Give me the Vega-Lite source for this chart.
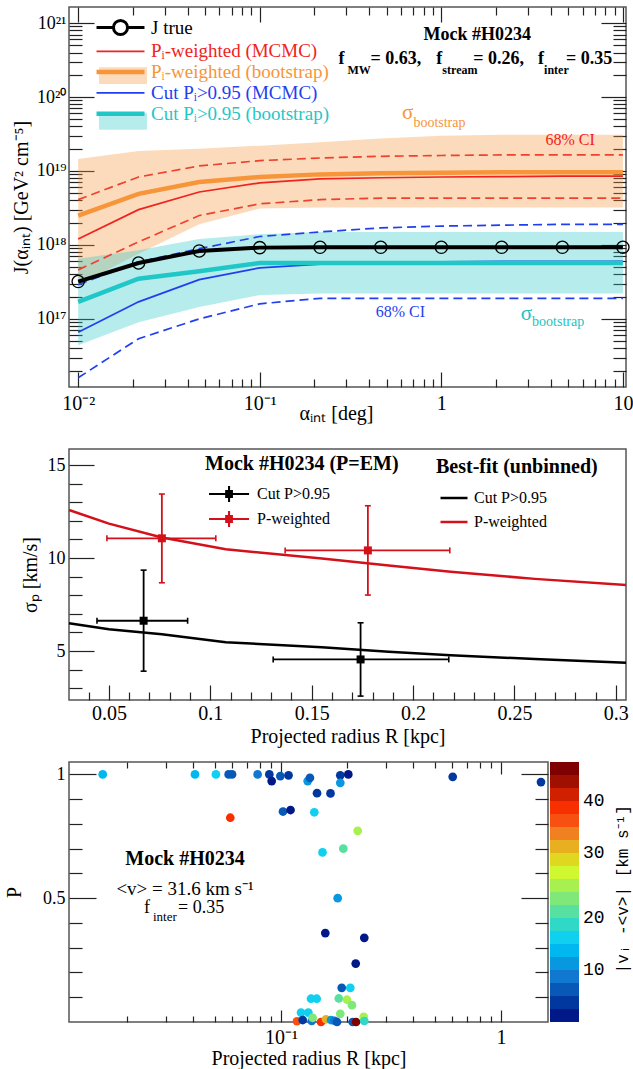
{
"$schema": "https://vega.github.io/schema/vega-lite/v6.json",
"background": "white",
"padding": {"left": 3, "top": 5, "right": 0, "bottom": 0},
"bounds": "flush",
"spacing": 62,
"config": {
  "font": "Liberation Serif",
  "view": {"stroke": "#555555", "strokeWidth": 1.5},
  "axis": {"domain": false, "grid": false, "labelFont": "Liberation Serif", "labelFontSize": 18, "labelColor": "black", "labelFlush": false, "labelOverlap": false, "labelBound": false, "titleFont": "Liberation Serif", "titleFontSize": 20, "titleFontWeight": "normal", "titleColor": "black", "tickColor": "#222222", "tickWidth": 1.2},
  "legend": {"labelFont": "Liberation Serif", "titleFont": "Liberation Serif", "labelColor": "black", "titleColor": "black", "padding": 0, "rowPadding": 0, "labelLimit": 400, "titleLimit": 500, "labelOverlap": false}
},
"resolve": {"scale": {"color": "independent", "stroke": "independent", "fill": "independent"}},
"datasets": {
  "jmain": [
    {"s":"Pᵢ-weighted (MCMC)","a":0.01,"J":1.2e18},{"s":"Pᵢ-weighted (MCMC)","a":0.0215,"J":3.0e18},{"s":"Pᵢ-weighted (MCMC)","a":0.0464,"J":5.2e18},{"s":"Pᵢ-weighted (MCMC)","a":0.1,"J":6.9e18},{"s":"Pᵢ-weighted (MCMC)","a":0.215,"J":7.8e18},{"s":"Pᵢ-weighted (MCMC)","a":0.464,"J":8.1e18},{"s":"Pᵢ-weighted (MCMC)","a":1,"J":8.3e18},{"s":"Pᵢ-weighted (MCMC)","a":2.15,"J":8.4e18},{"s":"Pᵢ-weighted (MCMC)","a":4.64,"J":8.5e18},{"s":"Pᵢ-weighted (MCMC)","a":10,"J":8.5e18},
    {"s":"Pᵢ-weighted (bootstrap)","a":0.01,"J":2.5e18},{"s":"Pᵢ-weighted (bootstrap)","a":0.0215,"J":4.9e18},{"s":"Pᵢ-weighted (bootstrap)","a":0.0464,"J":7.1e18},{"s":"Pᵢ-weighted (bootstrap)","a":0.1,"J":8.3e18},{"s":"Pᵢ-weighted (bootstrap)","a":0.215,"J":9.0e18},{"s":"Pᵢ-weighted (bootstrap)","a":0.464,"J":9.3e18},{"s":"Pᵢ-weighted (bootstrap)","a":1,"J":9.5e18},{"s":"Pᵢ-weighted (bootstrap)","a":2.15,"J":9.6e18},{"s":"Pᵢ-weighted (bootstrap)","a":4.64,"J":9.6e18},{"s":"Pᵢ-weighted (bootstrap)","a":10,"J":9.6e18},
    {"s":"Cut Pᵢ>0.95 (MCMC)","a":0.01,"J":6.6e16},{"s":"Cut Pᵢ>0.95 (MCMC)","a":0.0215,"J":1.7e17},{"s":"Cut Pᵢ>0.95 (MCMC)","a":0.0464,"J":3.4e17},{"s":"Cut Pᵢ>0.95 (MCMC)","a":0.1,"J":4.9e17},{"s":"Cut Pᵢ>0.95 (MCMC)","a":0.215,"J":5.5e17},{"s":"Cut Pᵢ>0.95 (MCMC)","a":0.464,"J":5.8e17},{"s":"Cut Pᵢ>0.95 (MCMC)","a":1,"J":5.9e17},{"s":"Cut Pᵢ>0.95 (MCMC)","a":2.15,"J":6.0e17},{"s":"Cut Pᵢ>0.95 (MCMC)","a":4.64,"J":6.0e17},{"s":"Cut Pᵢ>0.95 (MCMC)","a":10,"J":6.0e17},
    {"s":"Cut Pᵢ>0.95 (bootstrap)","a":0.01,"J":1.7e17},{"s":"Cut Pᵢ>0.95 (bootstrap)","a":0.0215,"J":3.5e17},{"s":"Cut Pᵢ>0.95 (bootstrap)","a":0.0464,"J":4.4e17},{"s":"Cut Pᵢ>0.95 (bootstrap)","a":0.1,"J":5.7e17},{"s":"Cut Pᵢ>0.95 (bootstrap)","a":0.215,"J":5.7e17},{"s":"Cut Pᵢ>0.95 (bootstrap)","a":0.464,"J":5.7e17},{"s":"Cut Pᵢ>0.95 (bootstrap)","a":1,"J":5.7e17},{"s":"Cut Pᵢ>0.95 (bootstrap)","a":2.15,"J":5.7e17},{"s":"Cut Pᵢ>0.95 (bootstrap)","a":4.64,"J":5.7e17},{"s":"Cut Pᵢ>0.95 (bootstrap)","a":10,"J":5.7e17},
    {"s":"J true","a":0.01,"J":3.2e17},{"s":"J true","a":0.0215,"J":5.7e17},{"s":"J true","a":0.0464,"J":8.3e17},{"s":"J true","a":0.1,"J":9.2e17},{"s":"J true","a":0.215,"J":9.3e17},{"s":"J true","a":0.464,"J":9.3e17},{"s":"J true","a":1,"J":9.3e17},{"s":"J true","a":2.15,"J":9.3e17},{"s":"J true","a":4.64,"J":9.3e17},{"s":"J true","a":10,"J":9.3e17}
  ],
  "jw": [
    {"a":0.01,"pwlo":4.6e17,"pwhi":4.1e18,"cutlo":1.6e16,"cuthi":2.9e17},
    {"a":0.0215,"pwlo":1.1e18,"pwhi":8.3e18,"cutlo":5.4e16,"cuthi":5.9e17},
    {"a":0.0464,"pwlo":2.5e18,"pwhi":1.17e19,"cutlo":1.0e17,"cuthi":8.9e17},
    {"a":0.1,"pwlo":3.6e18,"pwhi":1.38e19,"cutlo":1.6e17,"cuthi":1.3e18},
    {"a":0.215,"pwlo":4.1e18,"pwhi":1.5e19,"cutlo":1.9e17,"cuthi":1.5e18},
    {"a":0.464,"pwlo":4.3e18,"pwhi":1.58e19,"cutlo":1.9e17,"cuthi":1.7e18},
    {"a":1,"pwlo":4.3e18,"pwhi":1.62e19,"cutlo":1.9e17,"cuthi":1.8e18},
    {"a":2.15,"pwlo":4.3e18,"pwhi":1.65e19,"cutlo":1.9e17,"cuthi":1.85e18},
    {"a":4.64,"pwlo":4.3e18,"pwhi":1.65e19,"cutlo":1.9e17,"cuthi":1.9e18},
    {"a":10,"pwlo":4.3e18,"pwhi":1.65e19,"cutlo":1.9e17,"cuthi":1.9e18}
  ],
  "jband": [
    {"k":"pb","a":0.01,"lo":2.9e17,"hi":1.45e19},{"k":"pb","a":0.0215,"lo":7.6e17,"hi":1.86e19},{"k":"pb","a":0.0464,"lo":1.9e18,"hi":2.0e19},{"k":"pb","a":0.1,"lo":3.1e18,"hi":2.2e19},{"k":"pb","a":0.215,"lo":3.2e18,"hi":2.45e19},{"k":"pb","a":0.464,"lo":3.2e18,"hi":2.75e19},{"k":"pb","a":1,"lo":3.2e18,"hi":3.0e19},{"k":"pb","a":2.15,"lo":3.2e18,"hi":3.1e19},{"k":"pb","a":4.64,"lo":3.2e18,"hi":3.1e19},{"k":"pb","a":10,"lo":3.2e18,"hi":3.1e19},
    {"k":"cb","a":0.01,"lo":4.4e16,"hi":6.5e17},{"k":"cb","a":0.0215,"lo":9.0e16,"hi":8.5e17},{"k":"cb","a":0.0464,"lo":1.45e17,"hi":1.2e18},{"k":"cb","a":0.1,"lo":2.1e17,"hi":1.4e18},{"k":"cb","a":0.215,"lo":2.2e17,"hi":1.5e18},{"k":"cb","a":0.464,"lo":2.2e17,"hi":1.5e18},{"k":"cb","a":1,"lo":2.2e17,"hi":1.5e18},{"k":"cb","a":2.15,"lo":2.2e17,"hi":1.5e18},{"k":"cb","a":4.64,"lo":2.2e17,"hi":1.5e18},{"k":"cb","a":10,"lo":2.2e17,"hi":1.5e18}
  ],
  "tt": [
    {"a":1.578,"J":6.89e20,"text":"Mock #H0234","role":"hdr","g":"pw"},
    {"a":0.2717,"J":3.263e20,"text":"f","role":"fm","g":"pw"},
    {"a":0.4073,"J":3.263e20,"text":"= 0.63,","role":"fm","g":"pw"},
    {"a":0.9387,"J":3.263e20,"text":"f","role":"fm","g":"pw"},
    {"a":1.4993,"J":3.263e20,"text":"= 0.26,","role":"fm","g":"pw"},
    {"a":3.412,"J":3.263e20,"text":"f","role":"fm","g":"pw"},
    {"a":4.862,"J":3.263e20,"text":"= 0.35","role":"fm","g":"pw"},
    {"a":0.3044,"J":2.317e20,"text":"MW","role":"fs","g":"pw"},
    {"a":1.013,"J":2.317e20,"text":"stream","role":"fs","g":"pw"},
    {"a":3.68,"J":2.317e20,"text":"inter","role":"fs","g":"pw"},
    {"a":0.7015,"J":6.08e19,"text":"σ","role":"sig","g":"pw"},
    {"a":0.7015,"J":4.46e19,"text":"bootstrap","role":"sub","g":"pw"},
    {"a":3.16,"J":1.17e17,"text":"σ","role":"sig","g":"cut"},
    {"a":3.16,"J":9.1e16,"text":"bootstrap","role":"sub","g":"cut"},
    {"a":5.12,"J":2.62e19,"text":"68% CI","role":"ci","g":"pwci"},
    {"a":0.595,"J":1.245e17,"text":"68% CI","role":"ci","g":"cutci"}
  ],
  "mline": [
    {"fit":"Cut P>0.95","R":0.0303,"sig":6.49},{"fit":"Cut P>0.95","R":0.05,"sig":6.17},{"fit":"Cut P>0.95","R":0.0761,"sig":5.9},{"fit":"Cut P>0.95","R":0.1076,"sig":5.48},{"fit":"Cut P>0.95","R":0.155,"sig":5.2},{"fit":"Cut P>0.95","R":0.188,"sig":4.96},{"fit":"Cut P>0.95","R":0.2185,"sig":4.78},{"fit":"Cut P>0.95","R":0.26,"sig":4.57},{"fit":"Cut P>0.95","R":0.305,"sig":4.37},
    {"fit":"P-weighted","R":0.0303,"sig":12.58},{"fit":"P-weighted","R":0.05,"sig":11.85},{"fit":"P-weighted","R":0.0761,"sig":11.1},{"fit":"P-weighted","R":0.1076,"sig":10.47},{"fit":"P-weighted","R":0.155,"sig":9.98},{"fit":"P-weighted","R":0.188,"sig":9.6},{"fit":"P-weighted","R":0.2185,"sig":9.26},{"fit":"P-weighted","R":0.26,"sig":8.88},{"fit":"P-weighted","R":0.305,"sig":8.55}
  ],
  "mpts": [
    {"series":"Cut P>0.95","R":0.0671,"sig":6.63,"Rlo":0.0441,"Rhi":0.0888,"slo":3.92,"shi":9.35},
    {"series":"Cut P>0.95","R":0.1741,"sig":4.55,"Rlo":0.131,"Rhi":0.2176,"slo":2.58,"shi":6.52},
    {"series":"P-weighted","R":0.0761,"sig":11.06,"Rlo":0.049,"Rhi":0.1027,"slo":8.67,"shi":13.44},
    {"series":"P-weighted","R":0.1777,"sig":10.41,"Rlo":0.1369,"Rhi":0.2181,"slo":8.01,"shi":12.81}
  ],
  "bpts": [
    {"R":0.01547,"P":1.0,"v":14},{"R":0.04064,"P":1.0,"v":13},{"R":0.0506,"P":1.0,"v":15},{"R":0.0578,"P":1.0,"v":6},{"R":0.0599,"P":1.0,"v":7.5},{"R":0.0783,"P":1.0,"v":9},{"R":0.0885,"P":1.0,"v":3},{"R":0.0907,"P":0.973,"v":2},{"R":0.0993,"P":0.993,"v":6},{"R":0.1082,"P":0.996,"v":4},
    {"R":0.1322,"P":0.973,"v":12},{"R":0.1354,"P":0.986,"v":7},{"R":0.1458,"P":0.924,"v":4},{"R":0.1679,"P":0.923,"v":4},{"R":0.186,"P":0.996,"v":5},{"R":0.2023,"P":1.0,"v":2},{"R":0.186,"P":0.966,"v":10},{"R":0.6034,"P":0.99,"v":4},{"R":1.52,"P":0.969,"v":4},
    {"R":0.1021,"P":0.85,"v":7.5},{"R":0.1105,"P":0.856,"v":2},{"R":0.1417,"P":0.847,"v":15},{"R":0.0588,"P":0.825,"v":38},{"R":0.2232,"P":0.772,"v":26},{"R":0.192,"P":0.7,"v":21},{"R":0.1544,"P":0.685,"v":16},{"R":0.181,"P":0.5,"v":11.5},{"R":0.159,"P":0.359,"v":2},{"R":0.2391,"P":0.34,"v":2},{"R":0.2186,"P":0.236,"v":2},
    {"R":0.1888,"P":0.138,"v":7.5},{"R":0.2065,"P":0.138,"v":16},{"R":0.1369,"P":0.094,"v":16},{"R":0.1453,"P":0.094,"v":16},{"R":0.1831,"P":0.095,"v":21},{"R":0.1995,"P":0.09,"v":25.5},{"R":0.2102,"P":0.068,"v":23},{"R":0.1233,"P":0.038,"v":15},{"R":0.1331,"P":0.038,"v":16},{"R":0.186,"P":0.033,"v":23},
    {"R":0.1182,"P":0.003,"v":36},{"R":0.1255,"P":0.008,"v":4},{"R":0.1379,"P":0.004,"v":9},{"R":0.1393,"P":0.017,"v":23},{"R":0.152,"P":0.0,"v":38},{"R":0.1601,"P":0.011,"v":33},{"R":0.1688,"P":0.008,"v":11},{"R":0.1751,"P":0.005,"v":9},{"R":0.1797,"P":0.0,"v":7},{"R":0.2118,"P":0.0,"v":6},{"R":0.2193,"P":0.0,"v":46},{"R":0.2376,"P":0.021,"v":26},{"R":0.2391,"P":0.004,"v":18}
  ],
  "bt": [
    {"R":0.03661,"P":0.6566,"text":"Mock #H0234","role":"hdr"},
    {"R":0.03661,"P":0.538,"text":"<v> = 31.6 km s⁻¹","role":"ctr"},
    {"R":0.02384,"P":0.4585,"text":"f","role":"fm"},
    {"R":0.03402,"P":0.4585,"text":"= 0.35","role":"fm"},
    {"R":0.02619,"P":0.4234,"text":"inter","role":"fs"},
    {"R":3.585,"P":0.536,"text":"|vᵢ -<v>|  [km s⁻¹]","role":"cb"}
  ]
},
"vconcat": [
  {
    "width": 557, "height": 380,
    "encoding": {
      "x": {"field": "a", "type": "quantitative", "scale": {"type": "log", "domain": [0.0089, 10.4], "nice": false}, "axis": null},
      "y": {"field": "J", "type": "quantitative", "scale": {"type": "log", "domain": [1.2e16, 1.65e21], "nice": false}, "axis": null}
    },
    "layer": [
      {"data": {"name": "jband"}, "transform": [{"filter": "datum.k === 'pb'"}], "mark": {"type": "area", "opacity": 0.34},
       "encoding": {"y": {"field": "lo", "type": "quantitative", "scale": {"type": "log", "domain": [1.2e16, 1.65e21], "nice": false}, "axis": null}, "y2": {"field": "hi"},
         "color": {"field": "k", "type": "nominal", "scale": {"domain": ["j","pm","pb","cm","cb"], "range": ["transparent","transparent","#f7953a","transparent","#29c6c6"]},
           "legend": {"orient": "none", "legendX": 42, "legendY": 11, "title": null, "symbolType": "M-2.18,-0.77H2.18V0.77H-2.18Z", "symbolSize": 484, "labelFontSize": 19, "labelOffset": 21, "labelExpr": "' '", "labelOpacity": 0, "rowPadding": 0.8, "padding": 0}}}},
      {"data": {"name": "jband"}, "transform": [{"filter": "datum.k === 'cb'"}], "mark": {"type": "area", "opacity": 0.34},
       "encoding": {"y": {"field": "lo", "type": "quantitative", "scale": {"type": "log", "domain": [1.2e16, 1.65e21], "nice": false}, "axis": null}, "y2": {"field": "hi"},
         "color": {"field": "k", "type": "nominal", "scale": {"domain": ["j","pm","pb","cm","cb"], "range": ["transparent","transparent","#f7953a","transparent","#29c6c6"]}, "legend": null}}},
      {"data": {"name": "jw"}, "transform": [{"fold": ["pwlo","pwhi"], "as": ["b","J"]}], "mark": {"type": "line", "color": "#f0402e", "strokeWidth": 1.7, "strokeDash": [9,5]},
       "encoding": {"detail": {"field": "b", "type": "nominal"}}},
      {"data": {"name": "jw"}, "transform": [{"fold": ["cutlo","cuthi"], "as": ["b","J"]}], "mark": {"type": "line", "color": "#2040ee", "strokeWidth": 1.7, "strokeDash": [9,5]},
       "encoding": {"detail": {"field": "b", "type": "nominal"}}},
      {"data": {"name": "jmain"}, "transform": [{"filter": {"field": "s", "oneOf": ["Pᵢ-weighted (MCMC)","Cut Pᵢ>0.95 (MCMC)"]}}], "mark": {"type": "line", "strokeWidth": 1.7},
       "encoding": {
         "x": {"field": "a", "type": "quantitative", "scale": {"type": "log", "domain": [0.0089, 10.4], "nice": false},
           "axis": {"orient": "bottom", "values": [0.01,0.02,0.03,0.04,0.05,0.06,0.07,0.08,0.09,0.1,0.2,0.3,0.4,0.5,0.6,0.7,0.8,0.9,1,2,3,4,5,6,7,8,9,10],
             "labelExpr": "datum.value === 0.01 ? '10⁻²' : datum.value === 0.1 ? '10⁻¹' : datum.value === 1 ? '1' : datum.value === 10 ? '10' : ''",
             "tickSize": {"condition": {"test": "abs(log(datum.value)/LN10 - round(log(datum.value)/LN10)) < 0.001", "value": -15}, "value": -8},
             "labelFontSize": 20, "labelPadding": 21, "title": "αᵢₙₜ  [deg]", "titleX": 267, "titleY": 16}},
         "y": {"field": "J", "type": "quantitative", "scale": {"type": "log", "domain": [1.2e16, 1.65e21], "nice": false},
           "axis": {"orient": "left", "values": [2e16,3e16,4e16,5e16,6e16,7e16,8e16,9e16,1e17,2e17,3e17,4e17,5e17,6e17,7e17,8e17,9e17,1e18,2e18,3e18,4e18,5e18,6e18,7e18,8e18,9e18,1e19,2e19,3e19,4e19,5e19,6e19,7e19,8e19,9e19,1e20,2e20,3e20,4e20,5e20,6e20,7e20,8e20,9e20,1e21],
             "labelExpr": "abs(log(datum.value)/LN10 - round(log(datum.value)/LN10)) < 0.001 ? '10' + ['¹⁶','¹⁷','¹⁸','¹⁹','²⁰','²¹'][round(log(datum.value)/LN10) - 16] : ''",
             "tickSize": {"condition": {"test": "abs(log(datum.value)/LN10 - round(log(datum.value)/LN10)) < 0.001", "value": -25}, "value": -13},
             "labelPadding": 28, "title": "J(αᵢₙₜ)  [GeV² cm⁻⁵]", "titleX": -38}},
         "stroke": {"field": "s", "type": "nominal", "scale": {"domain": ["J true","Pᵢ-weighted (MCMC)","Pᵢ-weighted (bootstrap)","Cut Pᵢ>0.95 (MCMC)","Cut Pᵢ>0.95 (bootstrap)"], "range": ["black","#f0231e","#f7953a","#1f3ff0","#1fc7c7"]},
           "legend": {"orient": "none", "legendX": 42, "legendY": 11, "title": null, "symbolType": "M-2.18,0H2.18", "symbolSize": 484, "labelFontSize": 19, "labelOffset": 21, "rowPadding": 0.8, "padding": 0,
             "encode": {
               "labels": {"update": {"fill": {"signal": "['black','#f0231e','#f7953a','#1f3ff0','#1fc7c7'][datum.index]"}}},
               "symbols": {"update": {"shape": {"signal": "datum.index === 0 ? 'M-2.18,0H-0.64M0.64,0H2.18M0.64,0A0.64,0.64 0 1 1 -0.64,0A0.64,0.64 0 1 1 0.64,0' : 'M-2.18,0H2.18'"},
                           "strokeWidth": {"signal": "datum.index === 1 || datum.index === 3 ? 1.8 : (datum.index === 0 ? 3 : 4.5)"}}}
             }}}
       }},
      {"data": {"name": "jmain"}, "transform": [{"filter": {"field": "s", "oneOf": ["Pᵢ-weighted (bootstrap)","Cut Pᵢ>0.95 (bootstrap)"]}}], "mark": {"type": "line", "strokeWidth": 4.5},
       "encoding": {"stroke": {"field": "s", "type": "nominal", "scale": {"domain": ["J true","Pᵢ-weighted (MCMC)","Pᵢ-weighted (bootstrap)","Cut Pᵢ>0.95 (MCMC)","Cut Pᵢ>0.95 (bootstrap)"], "range": ["black","#f0231e","#f7953a","#1f3ff0","#1fc7c7"]}, "legend": null}}},
      {"data": {"name": "jmain"}, "transform": [{"filter": "datum.s === 'J true'"}], "mark": {"type": "line", "strokeWidth": 4},
       "encoding": {"stroke": {"field": "s", "type": "nominal", "scale": {"domain": ["J true","Pᵢ-weighted (MCMC)","Pᵢ-weighted (bootstrap)","Cut Pᵢ>0.95 (MCMC)","Cut Pᵢ>0.95 (bootstrap)"], "range": ["black","#f0231e","#f7953a","#1f3ff0","#1fc7c7"]}, "legend": null}}},
      {"data": {"name": "jmain"}, "transform": [{"filter": "datum.s === 'J true'"}], "mark": {"type": "point", "filled": false, "size": 150, "stroke": "black", "strokeWidth": 1.3, "opacity": 1},
       "encoding": {
         "x": {"field": "a", "type": "quantitative", "scale": {"type": "log", "domain": [0.0089, 10.4], "nice": false},
           "axis": {"orient": "top", "values": [0.01,0.02,0.03,0.04,0.05,0.06,0.07,0.08,0.09,0.1,0.2,0.3,0.4,0.5,0.6,0.7,0.8,0.9,1,2,3,4,5,6,7,8,9,10], "labels": false, "title": null,
             "tickSize": {"condition": {"test": "abs(log(datum.value)/LN10 - round(log(datum.value)/LN10)) < 0.001", "value": -15}, "value": -8}}},
         "y": {"field": "J", "type": "quantitative", "scale": {"type": "log", "domain": [1.2e16, 1.65e21], "nice": false},
           "axis": {"orient": "right", "values": [2e16,3e16,4e16,5e16,6e16,7e16,8e16,9e16,1e17,2e17,3e17,4e17,5e17,6e17,7e17,8e17,9e17,1e18,2e18,3e18,4e18,5e18,6e18,7e18,8e18,9e18,1e19,2e19,3e19,4e19,5e19,6e19,7e19,8e19,9e19,1e20,2e20,3e20,4e20,5e20,6e20,7e20,8e20,9e20,1e21], "labels": false, "title": null,
             "tickSize": {"condition": {"test": "abs(log(datum.value)/LN10 - round(log(datum.value)/LN10)) < 0.001", "value": -25}, "value": -13}}}
       }},
      {"data": {"name": "tt"}, "transform": [{"filter": "datum.role === 'hdr'"}], "mark": {"type": "text", "fontSize": 18, "fontWeight": "bold", "align": "center", "baseline": "middle", "color": "black"},
       "encoding": {"text": {"field": "text", "type": "nominal"}}},
      {"data": {"name": "tt"}, "transform": [{"filter": "datum.role === 'fm'"}], "mark": {"type": "text", "fontSize": 18, "fontWeight": "bold", "align": "left", "baseline": "middle", "color": "black"},
       "encoding": {"text": {"field": "text", "type": "nominal"}}},
      {"data": {"name": "tt"}, "transform": [{"filter": "datum.role === 'fs'"}], "mark": {"type": "text", "fontSize": 12, "fontWeight": "bold", "align": "left", "baseline": "middle", "color": "black"},
       "encoding": {"text": {"field": "text", "type": "nominal"}}},
      {"data": {"name": "tt"}, "transform": [{"filter": "datum.role === 'sig'"}], "mark": {"type": "text", "fontSize": 21, "align": "right", "baseline": "middle"},
       "encoding": {"text": {"field": "text", "type": "nominal"}, "fill": {"field": "g", "type": "nominal", "scale": {"domain": ["pw","cut","pwci","cutci"], "range": ["#f7953a","#22c3c3","#f0231e","#1f3ff0"]}, "legend": null}}},
      {"data": {"name": "tt"}, "transform": [{"filter": "datum.role === 'sub'"}], "mark": {"type": "text", "fontSize": 14, "align": "left", "baseline": "middle"},
       "encoding": {"text": {"field": "text", "type": "nominal"}, "fill": {"field": "g", "type": "nominal", "scale": {"domain": ["pw","cut","pwci","cutci"], "range": ["#f7953a","#22c3c3","#f0231e","#1f3ff0"]}, "legend": null}}},
      {"data": {"name": "tt"}, "transform": [{"filter": "datum.role === 'ci'"}], "mark": {"type": "text", "fontSize": 16, "align": "center", "baseline": "middle"},
       "encoding": {"text": {"field": "text", "type": "nominal"}, "fill": {"field": "g", "type": "nominal", "scale": {"domain": ["pw","cut","pwci","cutci"], "range": ["#f7953a","#22c3c3","#f0231e","#1f3ff0"]}, "legend": null}}}
    ]
  },
  {
    "width": 557, "height": 251,
    "resolve": {"legend": {"color": "independent", "stroke": "independent"}},
    "encoding": {
      "x": {"field": "R", "type": "quantitative", "scale": {"domain": [0.0303, 0.305], "nice": false, "zero": false}, "axis": null},
      "y": {"field": "sig", "type": "quantitative", "scale": {"domain": [2.37, 15.86], "nice": false, "zero": false}, "axis": null}
    },
    "layer": [
      {"data": {"name": "mline"}, "mark": {"type": "line", "strokeWidth": 2.5},
       "encoding": {
         "x": {"field": "R", "type": "quantitative", "scale": {"domain": [0.0303, 0.305], "nice": false, "zero": false},
           "axis": {"orient": "bottom", "values": [0.04,0.05,0.06,0.07,0.08,0.09,0.1,0.11,0.12,0.13,0.14,0.15,0.16,0.17,0.18,0.19,0.2,0.21,0.22,0.23,0.24,0.25,0.26,0.27,0.28,0.29,0.3],
             "labelExpr": "abs(datum.value*20 - round(datum.value*20)) < 0.001 ? format(datum.value, '~g') : ''",
             "tickSize": {"condition": {"test": "abs(datum.value*20 - round(datum.value*20)) < 0.001", "value": -15}, "value": -8},
             "labelFontSize": 20, "labelPadding": 18, "title": "Projected radius R  [kpc]", "titleY": 26}},
         "y": {"field": "sig", "type": "quantitative", "scale": {"domain": [2.37, 15.86], "nice": false, "zero": false},
           "axis": {"orient": "left", "values": [3,4,5,6,7,8,9,10,11,12,13,14,15],
             "labelExpr": "datum.value % 5 === 0 ? '' + datum.value : ''",
             "tickSize": {"condition": {"test": "datum.value % 5 === 0", "value": -25}, "value": -13},
             "labelPadding": 29, "title": "σₚ [km/s]", "titleX": -29}},
         "stroke": {"field": "fit", "type": "nominal", "scale": {"domain": ["Cut P>0.95","P-weighted"], "range": ["black","#d4111a"]},
           "legend": {"orient": "none", "legendX": 367, "legendY": 8, "title": "Best-fit (unbinned)", "titleFontSize": 20, "titleFontWeight": "bold", "titlePadding": 7, "symbolType": "M-0.76,0H1.4", "symbolSize": 625, "symbolStrokeWidth": 2.5, "labelFontSize": 16, "labelOffset": 10, "rowPadding": 2, "padding": 0}}
       }},
      {"data": {"name": "mpts"},
       "layer": [
         {"mark": {"type": "point", "shape": "square", "filled": true, "size": 64, "opacity": 1},
          "encoding": {
            "x": {"field": "R", "type": "quantitative", "scale": {"domain": [0.0303, 0.305], "nice": false, "zero": false},
              "axis": {"orient": "top", "values": [0.04,0.05,0.06,0.07,0.08,0.09,0.1,0.11,0.12,0.13,0.14,0.15,0.16,0.17,0.18,0.19,0.2,0.21,0.22,0.23,0.24,0.25,0.26,0.27,0.28,0.29,0.3], "labels": false, "title": null,
                "tickSize": {"condition": {"test": "abs(datum.value*20 - round(datum.value*20)) < 0.001", "value": -15}, "value": -8}}},
            "y": {"field": "sig", "type": "quantitative", "scale": {"domain": [2.37, 15.86], "nice": false, "zero": false},
              "axis": {"orient": "right", "values": [3,4,5,6,7,8,9,10,11,12,13,14,15], "labels": false, "title": null,
                "tickSize": {"condition": {"test": "datum.value % 5 === 0", "value": -25}, "value": -13}}},
            "color": {"field": "series", "type": "nominal", "scale": {"domain": ["Cut P>0.95","P-weighted"], "range": ["black","#d4111a"]},
              "legend": {"orient": "none", "legendX": 136, "legendY": 5, "title": "Mock #H0234 (P=EM)", "titleFontSize": 20, "titleFontWeight": "bold", "titlePadding": 7,
                "symbolType": "M-0.69,-0.08H2.39V0.08H-0.69ZM0.77,-0.62H0.93V0.62H0.77ZM0.55,-0.3H1.15V0.3H0.55Z", "symbolSize": 676, "symbolStrokeWidth": 0, "labelFontSize": 16, "labelOffset": 26, "rowPadding": 3, "padding": 0}}
          }},
         {"mark": {"type": "rule", "strokeWidth": 1.8},
          "encoding": {"x": {"field": "Rlo", "type": "quantitative", "scale": {"domain": [0.0303, 0.305], "nice": false, "zero": false}, "axis": null}, "x2": {"field": "Rhi"},
            "color": {"field": "series", "type": "nominal", "scale": {"domain": ["Cut P>0.95","P-weighted"], "range": ["black","#d4111a"]}, "legend": null}}},
         {"mark": {"type": "rule", "strokeWidth": 1.8},
          "encoding": {"y": {"field": "slo", "type": "quantitative", "scale": {"domain": [2.37, 15.86], "nice": false, "zero": false}, "axis": null}, "y2": {"field": "shi"},
            "color": {"field": "series", "type": "nominal", "scale": {"domain": ["Cut P>0.95","P-weighted"], "range": ["black","#d4111a"]}, "legend": null}}},
         {"transform": [{"fold": ["Rlo","Rhi"], "as": ["k","xc"]}], "mark": {"type": "tick", "orient": "vertical", "size": 6, "thickness": 1.6, "opacity": 1},
          "encoding": {"x": {"field": "xc", "type": "quantitative", "scale": {"domain": [0.0303, 0.305], "nice": false, "zero": false}, "axis": null},
            "color": {"field": "series", "type": "nominal", "scale": {"domain": ["Cut P>0.95","P-weighted"], "range": ["black","#d4111a"]}, "legend": null}}},
         {"transform": [{"fold": ["slo","shi"], "as": ["k","yc"]}], "mark": {"type": "tick", "orient": "horizontal", "size": 6, "thickness": 1.6, "opacity": 1},
          "encoding": {"y": {"field": "yc", "type": "quantitative", "scale": {"domain": [2.37, 15.86], "nice": false, "zero": false}, "axis": null},
            "color": {"field": "series", "type": "nominal", "scale": {"domain": ["Cut P>0.95","P-weighted"], "range": ["black","#d4111a"]}, "legend": null}}}
       ]}
    ]
  },
  {
    "width": 479, "height": 260,
    "encoding": {
      "x": {"field": "R", "type": "quantitative", "scale": {"type": "log", "domain": [0.01087, 1.636], "nice": false}, "axis": null},
      "y": {"field": "P", "type": "quantitative", "scale": {"domain": [0, 1.05], "nice": false, "zero": false}, "axis": null}
    },
    "layer": [
      {"data": {"name": "bpts"}, "mark": {"type": "circle", "size": 76, "opacity": 1},
       "encoding": {
         "x": {"field": "R", "type": "quantitative", "scale": {"type": "log", "domain": [0.01087, 1.636], "nice": false},
           "axis": {"orient": "bottom", "values": [0.02,0.03,0.04,0.05,0.06,0.07,0.08,0.09,0.1,0.2,0.3,0.4,0.5,0.6,0.7,0.8,0.9,1],
             "labelExpr": "datum.value === 0.1 ? '10⁻¹' : datum.value === 1 ? '1' : ''",
             "tickSize": {"condition": {"test": "abs(log(datum.value)/LN10 - round(log(datum.value)/LN10)) < 0.001", "value": -12}, "value": -6},
             "labelFontSize": 20, "labelPadding": 17, "title": "Projected radius R  [kpc]", "titleY": 26}},
         "y": {"field": "P", "type": "quantitative", "scale": {"domain": [0, 1.05], "nice": false, "zero": false},
           "axis": {"orient": "left", "values": [0.1,0.2,0.3,0.4,0.5,0.6,0.7,0.8,0.9,1],
             "labelExpr": "datum.value === 0.5 ? '0.5' : datum.value === 1 ? '1' : ''",
             "tickSize": {"condition": {"test": "datum.value === 0.5 || datum.value === 1", "value": -27}, "value": -13},
             "labelPadding": 31, "title": "P", "titleX": -45}},
         "color": {"field": "v", "type": "quantitative",
           "scale": {"type": "quantize", "domain": [0.6, 47], "nice": false, "zero": false, "range": ["#001888","#0038a0","#0858b8","#1078d0","#0898e0","#00b8f0","#10d0f0","#30d8c8","#58e0a0","#80e878","#a8f050","#d0f830","#e0d820","#e8b020","#f08020","#f85010","#f83000","#d02000","#a01000","#7f0000"]},
           "legend": {"type": "gradient", "orient": "none", "legendX": 481, "legendY": 0, "direction": "vertical", "gradientLength": 260, "gradientThickness": 29, "gradientStrokeWidth": 0,
             "labelExpr": "abs(datum.value - 9.88) < 0.1 ? '10' : abs(datum.value - 19.16) < 0.1 ? '20' : abs(datum.value - 30.76) < 0.1 ? '30' : abs(datum.value - 40.04) < 0.1 ? '40' : ''",
             "labelFont": "Liberation Mono", "labelFontSize": 18, "labelOffset": 4, "title": null, "padding": 0}}
       }},
      {"data": {"name": "bt"}, "transform": [{"filter": "datum.role === 'hdr'"}], "mark": {"type": "text", "fontSize": 20, "fontWeight": "bold", "align": "center", "baseline": "middle", "color": "black"},
       "encoding": {
         "x": {"field": "R", "type": "quantitative", "scale": {"type": "log", "domain": [0.01087, 1.636], "nice": false},
           "axis": {"orient": "top", "values": [0.02,0.03,0.04,0.05,0.06,0.07,0.08,0.09,0.1,0.2,0.3,0.4,0.5,0.6,0.7,0.8,0.9,1], "labels": false, "title": null,
             "tickSize": {"condition": {"test": "abs(log(datum.value)/LN10 - round(log(datum.value)/LN10)) < 0.001", "value": -12}, "value": -6}}},
         "y": {"field": "P", "type": "quantitative", "scale": {"domain": [0, 1.05], "nice": false, "zero": false},
           "axis": {"orient": "right", "values": [0.1,0.2,0.3,0.4,0.5,0.6,0.7,0.8,0.9,1], "labels": false, "title": null,
             "tickSize": {"condition": {"test": "datum.value === 0.5 || datum.value === 1", "value": -27}, "value": -13}}},
         "text": {"field": "text", "type": "nominal"}
       }},
      {"data": {"name": "bt"}, "transform": [{"filter": "datum.role === 'ctr'"}], "mark": {"type": "text", "fontSize": 19, "align": "center", "baseline": "middle", "color": "black"},
       "encoding": {"text": {"field": "text", "type": "nominal"}}},
      {"data": {"name": "bt"}, "transform": [{"filter": "datum.role === 'fm'"}], "mark": {"type": "text", "fontSize": 18, "align": "left", "baseline": "middle", "color": "black"},
       "encoding": {"text": {"field": "text", "type": "nominal"}}},
      {"data": {"name": "bt"}, "transform": [{"filter": "datum.role === 'fs'"}], "mark": {"type": "text", "fontSize": 13, "align": "left", "baseline": "middle", "color": "black"},
       "encoding": {"text": {"field": "text", "type": "nominal"}}},
      {"data": {"name": "bt"}, "transform": [{"filter": "datum.role === 'cb'"}], "mark": {"type": "text", "font": "Liberation Mono", "fontSize": 16, "align": "center", "baseline": "middle", "angle": 270, "color": "black"},
       "encoding": {"text": {"field": "text", "type": "nominal"}}}
    ]
  }
]
}
